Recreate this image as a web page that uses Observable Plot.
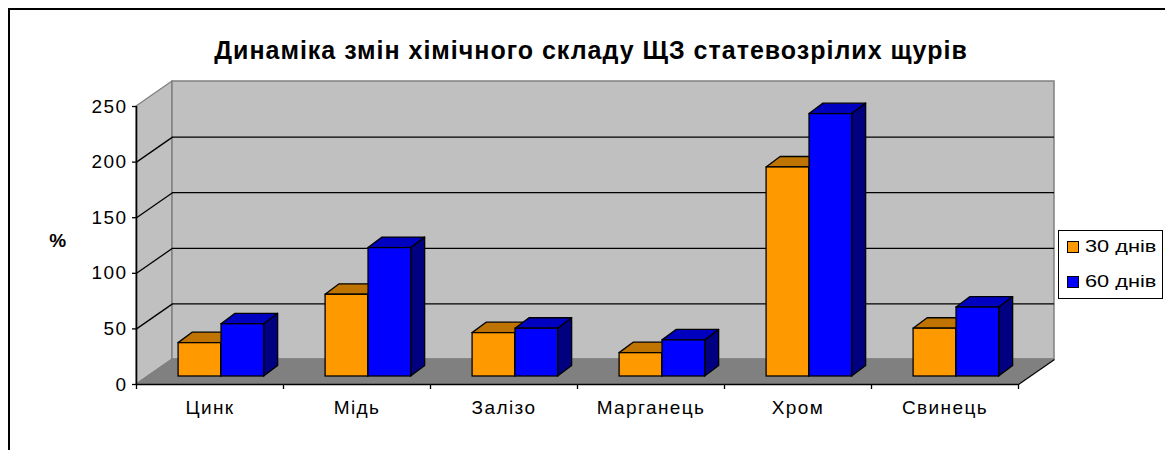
<!DOCTYPE html>
<html><head><meta charset="utf-8">
<script src="https://cdn.jsdelivr.net/npm/d3@7"></script>
<script src="https://cdn.jsdelivr.net/npm/@observablehq/plot@0.6"></script>
<style>
body{margin:0;background:#fff;}
#wrap{position:relative;width:1165px;height:450px;overflow:hidden;background:#fff;font-family:"Liberation Sans",Arial,sans-serif;color:#000;}
#frame{position:absolute;left:8px;top:8px;width:1300px;height:600px;border-left:2px solid #000;border-top:2px solid #000;}
#chart{position:absolute;left:0;top:0;}
#title{position:absolute;left:0;width:1182px;top:36px;text-align:center;font-weight:bold;font-size:25px;letter-spacing:1px;white-space:nowrap;}
#legend{position:absolute;left:1058px;top:230px;width:105px;height:69px;border:1px solid #000;background:#fff;box-sizing:border-box;font-size:17px;}
.item{position:absolute;left:8px;display:flex;align-items:center;}
.sw{width:10px;height:10px;border:1px solid #000;margin-right:6px;flex:none;}
.lt{display:inline-block;transform:scaleX(1.28);transform-origin:left center;white-space:nowrap;}
</style></head>
<body>
<div id="wrap">
  <div id="frame"></div>
  <div id="chart"></div>
  <div id="title"></div>
  <div id="legend"></div>
</div>
<script>
const title = "Динаміка змін хімічного складу ЩЗ статевозрілих щурів";
const yLabel = "%";
const categories = ["Цинк", "Мідь", "Залізо", "Марганець", "Хром", "Свинець"];
const seriesNames = ["30 днів", "60 днів"];
const values30 = [30, 73.5, 39, 21, 188, 43];
const values60 = [47, 115.5, 43, 32.5, 236, 62];
const yTicks = [0, 50, 100, 150, 200, 250];
const frontColors = ["#FF9900", "#0000FF"];
const topColors = ["#BF7300", "#0000C0"];
const sideColors = ["#A05F00", "#000080"];

// 3D geometry (style)
const nCat = categories.length;
const yMax = yTicks[yTicks.length - 1];
const DX = 36 / 147, DY = 22.5;      // wall depth in scale units
const F = 0.32;                       // depth position of bars
const BAR_START = [0.208, 0.5], BAR_W = 0.29;
const BDX = 14 / 147, BDY = 9.4;      // bar depth

const seriesValues = [values30, values60];
const bars = [];
seriesValues.forEach((vals, s) => vals.forEach((v, i) => {
  const x0 = i + BAR_START[s] + F * DX, x1 = x0 + BAR_W, yb = F * DY, yt = v + F * DY;
  bars.push({s, i, id: s + "-" + i, v, x0, x1, yb, yt});
}));

const barMarks = [];
[0, 1].forEach(s => {
  const bs = bars.filter(b => b.s === s);
  const topPts = bs.flatMap(b => [
    {id: b.id, y: b.yt, x1: b.x0, x2: b.x1},
    {id: b.id, y: b.yt + BDY, x1: b.x0 + BDX, x2: b.x1 + BDX}
  ]);
  const sidePts = bs.flatMap(b => [
    {id: b.id, x: b.x1, y1: b.yb, y2: b.yt},
    {id: b.id, x: b.x1 + BDX, y1: b.yb + BDY, y2: b.yt + BDY}
  ]);
  barMarks.push(
    Plot.area(sidePts, {x1: "x", x2: "x", y1: "y1", y2: "y2", z: "id", fill: sideColors[s], stroke: "#000", strokeWidth: 1.3}),
    Plot.area(topPts, {x1: "x1", x2: "x2", y1: "y", y2: "y", z: "id", fill: topColors[s], stroke: "#000", strokeWidth: 1.3}),
    Plot.rect(bs, {x1: "x0", x2: "x1", y1: "yb", y2: "yt", fill: frontColors[s], stroke: "#000", strokeWidth: 1.3})
  );
});

const inner = yTicks.slice(1, -1);

const chart = Plot.plot({
  width: 1165,
  height: 450,
  marginLeft: 136,
  marginRight: 111,
  marginTop: 81,
  marginBottom: 66,
  style: {fontFamily: "Liberation Sans, Arial, sans-serif", fontSize: "19px", letterSpacing: "1.4px", background: "transparent", overflow: "visible"},
  x: {domain: [0, nCat + DX]},
  y: {domain: [0, yMax + DY]},
  marks: [
    // left wall
    Plot.area([{x: 0, a: 0, b: yMax}, {x: DX, a: DY, b: yMax + DY}],
      {x1: "x", x2: "x", y1: "a", y2: "b", fill: "#C0C0C0", stroke: "#808080", strokeWidth: 1.3}),
    // back wall
    Plot.rect([{}], {x1: DX, x2: nCat + DX, y1: DY, y2: yMax + DY, fill: "#C0C0C0", stroke: "#808080", strokeWidth: 1.5}),
    // floor
    Plot.area([{y: 0, a: 0, b: nCat}, {y: DY, a: DX, b: nCat + DX}],
      {x1: "a", x2: "b", y1: "y", y2: "y", fill: "#808080", stroke: "#808080"}),
    // grid lines on back wall
    Plot.ruleY(inner, {y: d => d + DY, x1: DX, x2: nCat + DX, stroke: "#000", strokeWidth: 1.3}),
    // grid lines on left wall
    Plot.link(inner, {x1: 0, y1: d => d, x2: DX, y2: d => d + DY, stroke: "#000", strokeWidth: 1.3}),
    // floor right edge
    Plot.link([0], {x1: nCat, y1: 0, x2: nCat + DX, y2: DY, stroke: "#000", strokeWidth: 1.3}),
    ...barMarks,
    // axes
    Plot.ruleX([0], {y1: 0, y2: yMax, stroke: "#000", strokeWidth: 1.6}),
    Plot.ruleY([0], {x1: 0, x2: nCat, stroke: "#000", strokeWidth: 1.6}),
    Plot.axisY(yTicks, {anchor: "left", tickSize: 4, tickPadding: 5, label: null, fontSize: 19, stroke: "#000", strokeWidth: 1.3}),
    Plot.axisX(d3.range(nCat + 1), {anchor: "bottom", tickSize: 5, tickFormat: () => "", label: null, strokeWidth: 1.3}),
    Plot.axisX(categories.map((c, i) => i + 0.5), {anchor: "bottom", tickSize: 0, tickPadding: 16, tickFormat: d => categories[Math.floor(d)], label: null, fontSize: 19}),
    Plot.text([yLabel], {frameAnchor: "left", textAnchor: "middle", dx: -78, dy: 8, fontWeight: "bold", fontSize: 19, fill: "#000"})
  ]
});
document.getElementById("chart").appendChild(chart);
document.getElementById("title").textContent = title;

const legend = document.getElementById("legend");
seriesNames.forEach((name, s) => {
  const it = document.createElement("div");
  it.className = "item";
  it.style.top = (6 + s * 35) + "px";
  const sw = document.createElement("div");
  sw.className = "sw";
  sw.style.background = frontColors[s];
  const t = document.createElement("span");
  t.className = "lt";
  t.textContent = name;
  it.appendChild(sw); it.appendChild(t);
  legend.appendChild(it);
});
</script>
</body></html>
